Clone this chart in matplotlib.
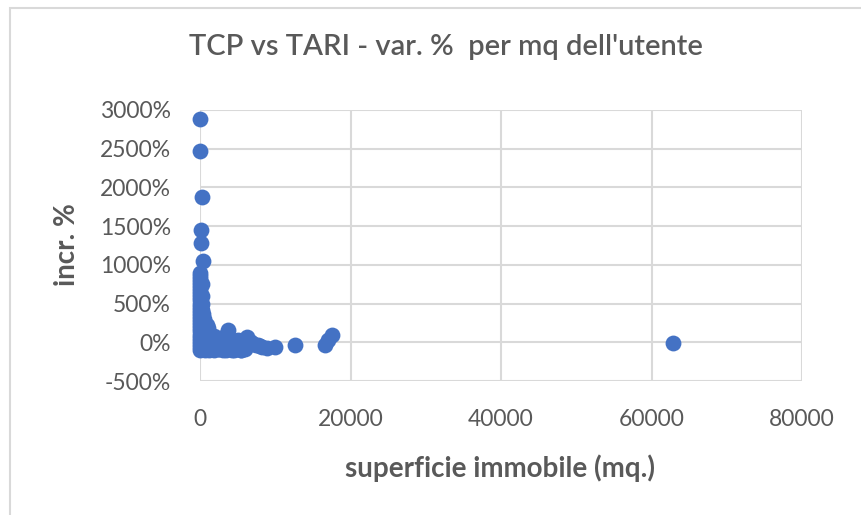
import matplotlib.pyplot as plt
from matplotlib.ticker import PercentFormatter, MultipleLocator
from matplotlib.patches import Rectangle

# superficie (mq) and variazione % (as fraction)
superficie = [
    # isolated high values
    20, 40, 270, 90, 130, 400,
    # dense column near zero surface
    50, 50, 50, 50, 50, 50, 50, 50, 50, 50, 50, 50, 50,
    50, 50, 50, 50, 50, 50, 50, 50, 50, 50, 50, 50, 50,
    250, 250, 250, 250, 250, 250, 250, 250, 250, 250, 250, 250,
    450, 500, 550, 600, 650, 700, 750, 800,
    900, 1000, 1100, 1200, 1300, 1400, 1500, 1700,
    # low band spreading to the right
    1900, 2100, 2300, 2500, 2700, 2900, 3100, 3300, 3500, 3700,
    3900, 4100, 4300, 4500, 4700, 4900, 5100, 5300, 5500, 5700,
    5900, 6200, 6500, 6800, 7100, 7400, 7700, 8000, 8300, 8900,
    1000, 1500, 2000, 2500, 3000, 3500, 4000, 4500, 5000, 5500,
    600, 1200, 1800, 2400, 3000, 3600, 4200, 4800, 5400, 6000,
    # far points
    10000, 12600, 16600, 17000, 17500, 62800,
]
variazione = [
    28.8, 24.7, 18.8, 14.5, 12.8, 10.5,
    9.0, 8.6, 8.2, 7.8, 7.4, 7.0, 6.6, 6.2, 5.8, 5.4, 5.0, 4.6, 4.2,
    3.8, 3.4, 3.0, 2.6, 2.2, 1.8, 1.4, 1.0, 0.6, 0.2, -0.2, -0.6, -1.0,
    7.5, 6.0, 5.0, 4.2, 3.5, 2.8, 2.2, 1.6, 1.0, 0.4, -0.3, -0.9,
    3.6, 3.0, 2.5, 2.0, 1.6, 1.2, 0.8, 0.4,
    2.2, 1.8, 1.5, 1.2, 0.9, 0.6, 0.4, 0.2,
    0.8, 0.5, 0.6, 0.3, 0.4, 0.2, 0.5, 0.3, 0.9, 1.55,
    0.4, 0.2, 0.3, 0.1, 0.2, 0.0, 0.3, 0.1, 0.2, 0.0,
    0.3, 0.65, 0.2, 0.0, -0.2, -0.3, -0.4, -0.5, -0.6, -0.7,
    -0.6, -0.8, -0.7, -0.9, -0.8, -1.0, -0.9, -1.0, -0.8, -1.0,
    -1.0, -1.0, -1.0, -0.9, -1.0, -0.9, -1.0, -0.9, -1.0, -0.9,
    -0.65, -0.3, -0.4, 0.25, 0.9, -0.15,
]

title_txt = "TCP vs TARI - var. %  per mq dell'utente"
xlabel_txt = "superficie immobile (mq.)"
ylabel_txt = "incr. %"

plt.rcParams['font.family'] = ['Lato', 'DejaVu Sans']
plt.rcParams['axes.unicode_minus'] = False
grey = '#595959'

fig = plt.figure(figsize=(8.61, 5.15), dpi=100)
ax = fig.add_axes([200 / 861, 1 - 381 / 515, 602 / 861, 271 / 515])

ax.scatter(superficie, variazione, s=130, color='#4472C4', zorder=3,
           linewidths=0, clip_on=False)

ax.set_xlim(0, 80000)
ax.set_ylim(-5, 30)
ax.xaxis.set_major_locator(MultipleLocator(20000))
ax.yaxis.set_major_locator(MultipleLocator(5))
ax.yaxis.set_major_formatter(PercentFormatter(xmax=1, decimals=0))

ax.grid(True, color='#D9D9D9', linewidth=1.5, zorder=0)
for s in ax.spines.values():
    s.set_visible(False)
ax.tick_params(length=0, labelsize=16.5, labelcolor=grey)
ax.tick_params(axis='x', pad=20)
ax.tick_params(axis='y', pad=21)

fig.text(446 / 861, 1 - 47 / 515, title_txt, fontsize=21, color=grey,
         fontweight='semibold', ha='center', va='center')
fig.text(500 / 861, 1 - 468 / 515, xlabel_txt, fontsize=20, color=grey,
         fontweight='bold', ha='center', va='center')
fig.text(67 / 861, 1 - 245 / 515, ylabel_txt, fontsize=20, color=grey,
         fontweight='bold', ha='center', va='center', rotation=90)

fig.patches.append(Rectangle((10 / 861, -0.1), 1.2, 1 - 8 / 515 + 0.1,
                             transform=fig.transFigure, fill=False,
                             edgecolor='#D9D9D9', linewidth=1.5))

fig.savefig('out.png', dpi=100)
